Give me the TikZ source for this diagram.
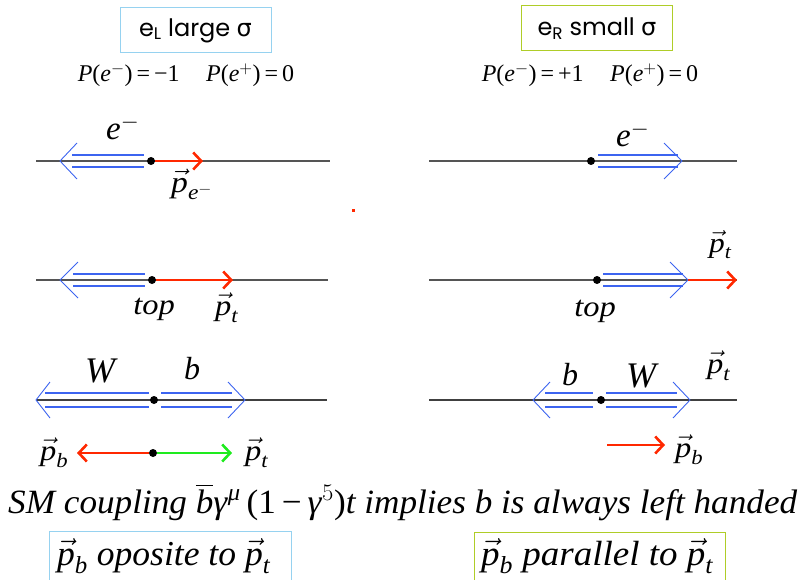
\RequirePackage{fix-cm}
\documentclass[tikz,border=0pt]{standalone}
\usepackage{amsmath}
\usepackage{graphicx}
\usepackage{fontspec}
\setmainfont{Liberation Serif}[ItalicFont={Liberation Serif Italic}]
\newfontfamily\gothic{Poppins}
\newfontfamily\symf{DejaVu Sans}
\usetikzlibrary{arrows.meta}
\definecolor{helblue}{RGB}{60,100,240}
\definecolor{momred}{RGB}{255,40,0}
\definecolor{momgreen}{RGB}{30,235,30}
\definecolor{axisgray}{RGB}{85,85,85}
\definecolor{boxblue}{RGB}{150,210,240}
\definecolor{boxgreen}{RGB}{175,205,40}
\newcommand\fs[1]{\fontsize{#1}{#1}\selectfont}
\newcommand\pv[1]{$\vec{\textit{p}}_{\textit{#1}}$}
\newcommand\helarrow[6]{%
  \draw[hel] (#3,#1-#2) -- (#4,#1-#2) (#3,#1+#2) -- (#4,#1+#2);
  \draw[helhead] (#6,#1-18) -- (#5,#1) -- (#6,#1+18);}
\begin{document}
\begin{tikzpicture}[x=1pt,y=-1pt,
  axis/.style={draw=axisgray,line width=1.4pt},
  hel/.style={draw=helblue,line width=1.3pt},
  helhead/.style={draw=helblue,line width=0.9pt},
  mom/.style={draw=momred,line width=2.6pt,-{Straight Barb[length=8pt,width=17pt]}},
  momg/.style={mom,draw=momgreen},
  dot/.style={circle,fill=black,inner sep=0pt,minimum size=8pt},
  lab/.style={inner sep=0pt,anchor=base west},
  wide/.style={xscale=1.12},
  title/.style={line width=1pt,minimum width=151,minimum height=45,inner sep=0pt,font=\gothic\fs{24}},
]
\useasboundingbox (0,0) rectangle (802,580);
% titles
\node[title,draw=boxblue] (tl) at (195.5,30.5) {e\textsubscript{L} large {\symf σ}};
\node[title,draw=boxgreen] (tr) at (597,28.5) {e\textsubscript{R} small {\symf σ}};
\node[inner sep=0pt,anchor=base,font=\fs{24}] (pl) at (186,82) {\textit{P}(\textit{e}$^{-}$)\,=\,−1\hspace{1.1em}\textit{P}(\textit{e}$^{+}$)\,=\,0};
\node[inner sep=0pt,anchor=base,font=\fs{24}] (pr) at (590,82) {\textit{P}(\textit{e}$^{-}$)\,=\,+1\hspace{1.1em}\textit{P}(\textit{e}$^{+}$)\,=\,0};
% axes
\coordinate (a1l) at (36,161);  \coordinate (a1r) at (330,161);
\coordinate (a2l) at (36,280);  \coordinate (a2r) at (328,280);
\coordinate (a3l) at (36,400);  \coordinate (a3r) at (327,400);
\coordinate (b1l) at (429,161); \coordinate (b1r) at (737,161);
\coordinate (b2l) at (429,280); \coordinate (b2r) at (737,280);
\coordinate (b3l) at (429,400); \coordinate (b3r) at (737,400);
\draw[axis] (a1l) -- (a1r);
\draw[axis] (a2l) -- (a2r);
\draw[axis,line width=1.2pt,draw=black!75] (a3l) -- (a3r);
\draw[axis] (b1l) -- (b1r);
\draw[axis] (b2l) -- (b2r);
\draw[axis,line width=1.2pt,draw=black!75] (b3l) -- (b3r);
% helicity arrows
\helarrow{161}{6}{72}{144}{60}{77}
\helarrow{280}{6}{73}{145}{60}{78}
\helarrow{400}{7}{45}{149}{36}{50}
\helarrow{400}{7}{161}{232}{245}{228}
\helarrow{161}{6}{598}{678}{682}{664}
\helarrow{280}{6}{603}{683}{688}{670}
\helarrow{400}{7}{545}{593}{533}{550}
\helarrow{400}{7}{606}{677}{690}{673}
% dots
\node[dot] (d1) at (151,161) {};
\node[dot] (d2) at (152,280) {};
\node[dot] (d3) at (154,400) {};
\node[dot] (d4) at (153,453) {};
\node[dot] (e1) at (591,161) {};
\node[dot] (e2) at (597,280) {};
\node[dot] (e3) at (601,400) {};
% momentum arrows
\coordinate (m1) at (203,161);
\coordinate (m2) at (233,280);
\coordinate (m4l) at (77,453);
\coordinate (m4r) at (232,453);
\coordinate (h2) at (688,280);
\coordinate (n2) at (737,280);
\coordinate (n3s) at (607,445);
\coordinate (n3e) at (665,445);
\draw[mom] (d1) -- (m1);
\draw[mom] (d2) -- (m2);
\draw[mom] (d4) -- (m4l);
\draw[momg] (d4) -- (m4r);
\draw[mom] (h2) -- (n2);
\draw[mom] (n3s) -- (n3e);
\fill[momred] (352,209) rectangle (355,212);
% labels
\node[lab,font=\fs{33}] (le1) at (106,140) {\textit{e}$^{-}$};
\node[lab,wide,font=\fs{30}] (lpe) at (171,192) {$\vec{\textit{p}}_{\textit{e}^{-}}$};
\node[lab,wide,font=\fs{29},anchor=base] (ltop1) at (154,314) {\textit{top}};
\node[lab,wide,font=\fs{29}] (lpt1) at (215,315) {\pv{t}};
\node[lab,font=\fs{36}] (lW1) at (85,382) {\textit{W}};
\node[lab,font=\fs{32}] (lb1) at (184,379) {\textit{b}};
\node[lab,wide,font=\fs{29}] (lpb2) at (40,460) {\pv{b}};
\node[lab,wide,font=\fs{29}] (lpt2) at (245,460) {\pv{t}};
\node[lab,font=\fs{33}] (re1) at (616,147) {\textit{e}$^{-}$};
\node[lab,wide,font=\fs{29},anchor=base] (rtop) at (595,316) {\textit{top}};
\node[lab,wide,font=\fs{28}] (rpt1) at (709,252) {\pv{t}};
\node[lab,font=\fs{32}] (rb) at (562,385) {\textit{b}};
\node[lab,font=\fs{36}] (rW) at (626,387) {\textit{W}};
\node[lab,wide,font=\fs{29}] (rpt2) at (707,373) {\pv{t}};
\node[lab,wide,font=\fs{29}] (rpb) at (675,457) {\pv{b}};
% bottom statement
\node[lab] (sm) at (8,513) {\resizebox{789pt}{\height}{\fs{34}\textit{SM coupling} $\overline{\textit{b}}$\textit{γ}$^{\textit{μ}}$\,(1\,−\,\textit{γ}$^{5}$)\textit{t implies b is always left handed}}};
\draw[boxblue,line width=1pt] (49,531) rectangle (291,590);
\draw[boxgreen,line width=1pt] (474,532) rectangle (725,590);
\node[lab] (ob) at (57,565) {\resizebox{213pt}{\height}{\fs{35}\pv{b}\ \textit{oposite to}\ \pv{t}}};
\node[lab] (pb) at (481,565) {\resizebox{232pt}{\height}{\fs{35}\pv{b}\ \textit{parallel to}\ \pv{t}}};
\end{tikzpicture}
\end{document}
